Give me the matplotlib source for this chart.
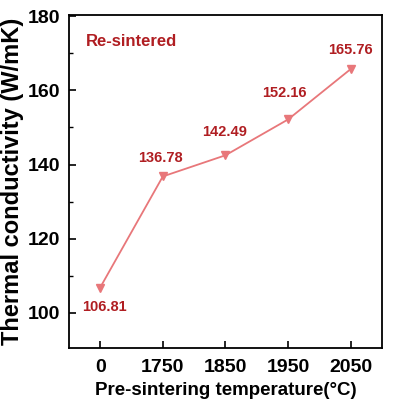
import matplotlib.pyplot as plt
from matplotlib.ticker import MultipleLocator

plt.rcParams['font.family'] = ['Liberation Sans', 'DejaVu Sans']
plt.rcParams['font.weight'] = 'bold'

# data
temps = ['0', '1750', '1850', '1950', '2050']
conductivity = [106.81, 136.78, 142.49, 152.16, 165.76]
# label offsets in points (dx, dy)
offsets = [(3, -14), (-2, 13), (-1, 17), (-3, 19), (0, 14)]

fig = plt.figure(figsize=(3.98, 4.08), dpi=100)
ax = fig.add_axes([0.173, 0.147, 0.787, 0.816])

x = list(range(len(temps)))
ax.plot(x, conductivity, color='#e8777a', lw=1.3, marker='v', ms=6,
        mfc='#e8777a', mec='#e8777a')

for xi, yi, off in zip(x, conductivity, offsets):
    ax.annotate(f'{yi:.2f}', (xi, yi), xytext=off, textcoords='offset points',
                ha='center', va='center', color='#b01e22', fontsize=10.5,
                fontweight='bold')

ax.text(0.055, 0.92, 'Re-sintered', transform=ax.transAxes, color='#b01e22',
        fontsize=12, fontweight='bold', va='center')

ax.set_xlim(-0.5, 4.5)
ax.set_ylim(90.5, 180.3)
ax.set_xticks(x)
ax.set_xticklabels(temps)
ax.set_yticks([100, 120, 140, 160, 180])
ax.yaxis.set_minor_locator(MultipleLocator(10))
ax.tick_params(axis='both', which='major', direction='in', length=5, width=1.2,
               labelsize=14, pad=6)
ax.tick_params(axis='x', which='major', pad=8)
ax.tick_params(axis='y', which='minor', direction='in', length=3, width=1)
for lab in ax.get_xticklabels() + ax.get_yticklabels():
    lab.set_fontweight('bold')
for sp in ax.spines.values():
    sp.set_linewidth(1.3)

ax.set_xlabel('Pre-sintering temperature(°C)', fontsize=13.5, fontweight='bold',
              labelpad=4)
ax.set_ylabel('Thermal conductivity (W/mK)', fontsize=17, fontweight='bold',
              labelpad=3)

fig.savefig('out.png', dpi=100)
